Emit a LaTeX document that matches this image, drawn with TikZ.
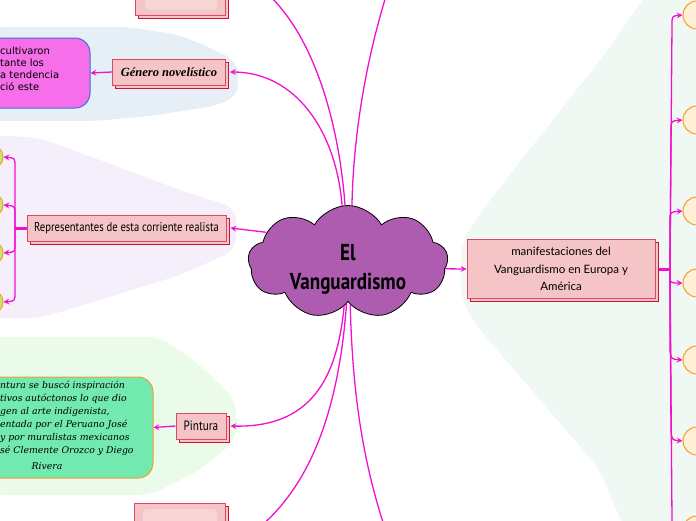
\documentclass[tikz,border=0pt]{standalone}
\usepackage{fontspec}
\setmainfont{DejaVu Sans}
\newfontfamily\condfont[FakeStretch=0.83]{PT Sans}
\newfontfamily\decofont{Liberation Serif}
\newfontfamily\roundfont{Lato}
\newfontfamily\slabfont{DejaVu Serif}
\usetikzlibrary{shapes.symbols,arrows.meta,shadows}
\definecolor{mag}{HTML}{F20FD2}
\definecolor{boxfill}{HTML}{F5C4C6}
\definecolor{boxinner}{HTML}{F7D5D5}
\definecolor{boxedge}{HTML}{D94A62}
\definecolor{boxedgeb}{HTML}{D0103A}
\definecolor{cloudfill}{HTML}{AE5CB0}
\definecolor{bgblue}{HTML}{E7EFF6}
\definecolor{bglav}{HTML}{F5EEFB}
\definecolor{bggreen}{HTML}{EAFBEA}
\definecolor{bgmint}{HTML}{EFF8F3}
\definecolor{magbox}{HTML}{F66EEA}
\definecolor{magboxedge}{HTML}{3C6FD8}
\definecolor{grbox}{HTML}{72E9AE}
\definecolor{orangeedge}{HTML}{F0A030}
\definecolor{peach}{HTML}{FFEFD6}
\definecolor{limefill}{HTML}{C8E86A}
\tikzset{
  topic/.style={draw=boxedge, fill=boxfill, line width=1pt, inner sep=0pt,
    copy shadow={shadow xshift=3pt, shadow yshift=-3pt, draw=boxedgeb, fill=boxfill, line width=1pt}},
  conn/.style={draw=mag, line width=1.3pt, -{Stealth[length=6pt,width=6pt,inset=2.5pt]}},
  plain/.style={draw=mag, line width=1.3pt},
  trunk/.style={draw=mag, line width=3pt},
  lcirc/.style={circle, draw=orangeedge, fill=limefill, line width=1pt, minimum size=24pt, inner sep=0pt},
  rcirc/.style={circle, draw=orangeedge, fill=peach, line width=1pt, minimum size=28pt, inner sep=0pt},
}
\begin{document}
\begin{tikzpicture}[x=1pt,y=-1pt]
\useasboundingbox (0,0) rectangle (696,520);
% background regions
\fill[bgblue, rounded corners=12pt] (-10,27) -- (130,27) -- (180,35) -- (215,50) -- (238,62) -- (238,96) -- (215,106) -- (150,116) -- (95,121) -- (-10,121) -- cycle;
\fill[bglav, rounded corners=12pt] (-10,135) -- (40,138) -- (100,160) -- (180,190) -- (236,208) -- (236,250) -- (180,275) -- (100,300) -- (40,318) -- (-10,318) -- cycle;
\fill[bggreen, rounded corners=12pt] (-10,337) -- (160,337) -- (200,365) -- (236,400) -- (236,440) -- (200,470) -- (150,495) -- (-10,495) -- cycle;
\fill[bgmint, rounded corners=14pt] (650,-10) -- (710,-10) -- (710,530) -- (625,530) -- (600,470) -- (470,318) -- (460,290) -- (462,240) -- (490,200) -- (600,60) -- cycle;
% nodes
\node[cloud, cloud puffs=9, cloud puff arc=120, aspect=1.9, draw=black, line width=0.8pt, fill=cloudfill,
  minimum width=200pt, minimum height=113pt, inner sep=0pt] (cloud) at (348,262) {};
\node[align=center, inner sep=0pt, font=\condfont\bfseries\fontsize{23}{29}\selectfont] (cloudt) at (348,269) {El\\Vanguardismo};
\node[topic, minimum width=113pt, minimum height=26pt, font=\decofont\bfseries\itshape\fontsize{12.5}{14}\selectfont] (gen) at (169,72) {Género novelístico};
\node[topic, minimum width=199pt, minimum height=26pt, font=\condfont\fontsize{12.8}{14}\selectfont] (rep) at (126.5,228) {Representantes de esta corriente realista};
\node[topic, minimum width=50pt, minimum height=26pt, font=\condfont\fontsize{13.5}{15}\selectfont] (pin) at (201,426) {Pintura};
\node[topic, minimum width=90pt, minimum height=90pt] (topb) at (180,-30) {};
\fill[boxinner, rounded corners=4pt] (145,-60) rectangle (217,10);
\node[topic, minimum width=91pt, minimum height=90pt] (botb) at (179.5,548) {};
\fill[boxinner, rounded corners=4pt] (143,509) rectangle (217,580);
\node[topic, minimum width=188pt, minimum height=59pt, align=center,
  font=\roundfont\fontsize{11.5}{17.5}\selectfont] (man) at (561,269) {manifestaciones del\\Vanguardismo en Europa y\\América};
\node[draw=magboxedge, fill=magbox, line width=1pt, rounded corners=15pt, minimum width=130pt, minimum height=70pt] (mb) at (25,73) {};
\node[anchor=north west, align=left, inner sep=0pt, font=\fontsize{10}{12}\selectfont] (mbt) at (0,47) {cultivaron\\tante los\\a tendencia\\ció este};
\node[draw=orangeedge, fill=grbox, line width=1pt, rounded corners=15pt, minimum width=212pt, minimum height=101pt] (gb) at (47,427.5) {};
\node[anchor=north west, align=left, inner sep=0pt, font=\slabfont\itshape\fontsize{9.3}{13}\selectfont] (gbt) at (0,381) {ntura se buscó inspiración\\tivos autóctonos lo que dio\\gen al arte indigenista,\\entada por el Peruano José\\y por muralistas mexicanos\\sé Clemente Orozco y Diego};
\node[inner sep=0pt, font=\slabfont\itshape\fontsize{9.3}{13}\selectfont] (gbr) at (47,466) {Rivera};
\node[lcirc] (l1) at (-9,157) {};
\node[lcirc] (l2) at (-9,205) {};
\node[lcirc] (l3) at (-9,253) {};
\node[lcirc] (l4) at (-9,302) {};
\node[rcirc] (r1) at (697,15) {};
\node[rcirc] (r2) at (697,120) {};
\node[rcirc] (r3) at (697,211) {};
\node[rcirc] (r4) at (697,283) {};
\node[rcirc] (r5) at (697,360) {};
\node[rcirc] (r6) at (697,441) {};
\node[rcirc] (r7) at (697,530) {};
\coordinate (upr) at (398,-40);
\coordinate (dnr) at (396,560);
\coordinate (lj) at (15,228);
\coordinate (rj) at (670,269);
% connectors from the cloud
\draw[conn] (cloud.96) .. controls (336,130) and (295,72) .. ([xshift=4pt]gen.east);
\draw[conn] (cloud.93) .. controls (338,110) and (305,0) .. ([xshift=4pt]topb.east);
\draw[plain] (cloud.86) .. controls (353,150) and (362,60) .. (upr);
\draw[conn] (cloud.160) -- ([xshift=4pt]rep.east);
\draw[conn] (cloud.-4) -- (man.west);
\draw[conn] (cloud.265) .. controls (337,380) and (310,428) .. ([xshift=4pt]pin.east);
\draw[conn] (cloud.268) .. controls (338,420) and (305,505) .. ([xshift=4pt]botb.east);
\draw[plain] (cloud.273) .. controls (353,420) and (370,490) .. (dnr);
% other connectors
\draw[conn] (gen.west) -- (mb.east);
\draw[conn] (pin.west) -- (gb.east);
\draw[trunk] (rep.west) -- (lj);
\draw[conn] (lj) -- (15,167) .. controls (15,158) .. (l1.east);
\draw[conn] (lj) -- (15,215) .. controls (15,206) .. (l2.east);
\draw[conn] (lj) -- (15,243) .. controls (15,252) .. (l3.east);
\draw[conn] (lj) -- (15,292) .. controls (15,301) .. (l4.east);
\draw[trunk] ([xshift=3pt]man.east) -- (rj);
\draw[conn] (rj) -- (672,25) .. controls (672,16) .. (r1.west);
\draw[conn] (rj) -- (671,130) .. controls (671,121) .. (r2.west);
\draw[conn] (rj) -- (670,221) .. controls (670,212) .. (r3.west);
\draw[conn] (rj) -- (670,275) .. controls (670,283) .. (r4.west);
\draw[conn] (rj) -- (670,350) .. controls (671,359) .. (r5.west);
\draw[conn] (rj) -- (671,431) .. controls (672,440) .. (r6.west);
\draw[conn] (rj) -- (672,520) .. controls (672,529) .. (r7.west);
\end{tikzpicture}
\end{document}
